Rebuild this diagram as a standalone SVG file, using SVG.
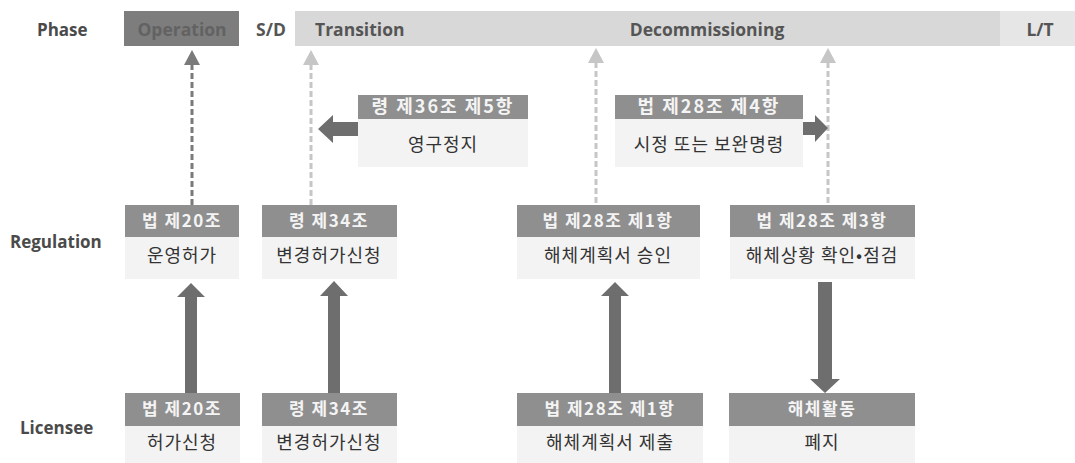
<svg xmlns="http://www.w3.org/2000/svg" width="1075" height="463" viewBox="0 0 1075 463">
<style>
.lbl{font-family:"Open Sans","Liberation Sans",sans-serif;font-weight:bold;font-size:17px;fill:#4a4a4a}
.ph{font-family:"Open Sans","Liberation Sans",sans-serif;font-weight:bold;font-size:17.5px;fill:#555}
.hd{fill:#8f8f8f}
.bd{fill:#f3f3f3}
.ht{font-family:"Noto Sans CJK KR","Liberation Sans",sans-serif;font-weight:bold;font-size:17px;letter-spacing:1.5px;fill:#f4f4f4;text-anchor:middle}
.hm{font-size:18px;letter-spacing:2px}
.bt{font-family:"Noto Sans CJK KR","Liberation Sans",sans-serif;font-size:18px;letter-spacing:1px;fill:#333;text-anchor:middle}
.thick{fill:#6e6e6e}
.dk{stroke:#7a7a7a;stroke-width:3;stroke-dasharray:6,3;fill:none}
.lt{stroke:#c6c6c6;stroke-width:3;stroke-dasharray:6,3;fill:none}
</style>
<rect width="1075" height="463" fill="#ffffff"/>

<g id="phase">
  <text class="lbl" x="37" y="36">Phase</text>
  <rect x="124" y="11" width="115" height="35" fill="#7d7d7d"/>
  <text class="ph" x="182" y="36" text-anchor="middle" style="fill:#626262">Operation</text>
  <text class="ph" x="271" y="36" text-anchor="middle">S/D</text>
  <rect x="295" y="11" width="705" height="35" fill="#d8d8d8"/>
  <rect x="1000" y="11" width="75" height="35" fill="#e6e6e6"/>
  <text class="ph" x="315" y="36">Transition</text>
  <text class="ph" x="707" y="36" text-anchor="middle">Decommissioning</text>
  <text class="ph" x="1040" y="36" text-anchor="middle">L/T</text>
</g>

<text class="lbl" x="10" y="248">Regulation</text>
<text class="lbl" x="20" y="434">Licensee</text>

<g id="connectors">
  <line class="dk" x1="192" y1="64" x2="192" y2="205"/>
  <polygon points="192,50 200,65 184,65" fill="#7a7a7a"/>
  <line class="lt" x1="311" y1="64" x2="311" y2="205"/>
  <polygon points="311,50 319,65 303,65" fill="#c6c6c6"/>
  <line class="lt" x1="596" y1="62" x2="596" y2="205"/>
  <polygon points="596,48 604,63 588,63" fill="#c6c6c6"/>
  <line class="lt" x1="828" y1="62" x2="828" y2="205"/>
  <polygon points="828,48 836,63 820,63" fill="#c6c6c6"/>

  <polygon class="thick" points="191,283 205,297 197,297 197,393 185,393 185,297 177,297"/>
  <polygon class="thick" points="334,281 348,296 340,296 340,393 328,393 328,296 320,296"/>
  <polygon class="thick" points="615,282 629,296 621,296 621,393 609,393 609,296 601,296"/>
  <polygon class="thick" points="818,282 832,282 832,379 840,379 825,393 810,379 818,379"/>

  <polygon class="thick" points="318,129 333,115 333,122 358,122 358,136 333,136 333,143"/>
  <polygon class="thick" points="803,122 815,122 815,115 828,128 815,142 815,135 803,135"/>
</g>

<g id="n-r36">
  <rect class="bd" x="358" y="95" width="170" height="72"/>
  <rect class="hd" x="358" y="95" width="170" height="24"/>
  <text class="ht hm" x="443" y="113">령 제36조 제5항</text>
  <text class="bt" x="443" y="151">영구정지</text>
</g>
<g id="n-l28-4">
  <rect class="bd" x="615" y="95" width="188" height="72"/>
  <rect class="hd" x="615" y="95" width="188" height="24"/>
  <text class="ht hm" x="709" y="113">법 제28조 제4항</text>
  <text class="bt" x="709" y="151">시정 또는 보완명령</text>
</g>

<g id="n-reg-20">
  <rect class="bd" x="125" y="205" width="114" height="74"/>
  <rect class="hd" x="125" y="205" width="114" height="32"/>
  <text class="ht" x="182" y="227">법 제20조</text>
  <text class="bt" x="182" y="262">운영허가</text>
</g>
<g id="n-reg-34">
  <rect class="bd" x="262" y="205" width="135" height="74"/>
  <rect class="hd" x="262" y="205" width="135" height="32"/>
  <text class="ht" x="329" y="227">령 제34조</text>
  <text class="bt" x="329" y="262">변경허가신청</text>
</g>
<g id="n-reg-28-1">
  <rect class="bd" x="517" y="205" width="183" height="74"/>
  <rect class="hd" x="517" y="205" width="183" height="32"/>
  <text class="ht" x="608" y="227">법 제28조 제1항</text>
  <text class="bt" x="608" y="262">해체계획서 승인</text>
</g>
<g id="n-reg-28-3">
  <rect class="bd" x="730" y="205" width="185" height="74"/>
  <rect class="hd" x="730" y="205" width="185" height="32"/>
  <text class="ht" x="822" y="227">법 제28조 제3항</text>
  <text class="bt" x="822" y="262">해체상황 확인•점검</text>
</g>

<g id="n-lic-20">
  <rect class="bd" x="125" y="393" width="115" height="70"/>
  <rect class="hd" x="125" y="393" width="115" height="33"/>
  <text class="ht" x="182" y="415">법 제20조</text>
  <text class="bt" x="182" y="449">허가신청</text>
</g>
<g id="n-lic-34">
  <rect class="bd" x="262" y="393" width="135" height="70"/>
  <rect class="hd" x="262" y="393" width="135" height="33"/>
  <text class="ht" x="329" y="415">령 제34조</text>
  <text class="bt" x="329" y="449">변경허가신청</text>
</g>
<g id="n-lic-28-1">
  <rect class="bd" x="517" y="393" width="186" height="70"/>
  <rect class="hd" x="517" y="393" width="186" height="33"/>
  <text class="ht" x="610" y="415">법 제28조 제1항</text>
  <text class="bt" x="610" y="449">해체계획서 제출</text>
</g>
<g id="n-lic-act">
  <rect class="bd" x="729" y="393" width="186" height="70"/>
  <rect class="hd" x="729" y="393" width="186" height="33"/>
  <text class="ht" x="822" y="415">해체활동</text>
  <text class="bt" x="822" y="449">폐지</text>
</g>
</svg>
